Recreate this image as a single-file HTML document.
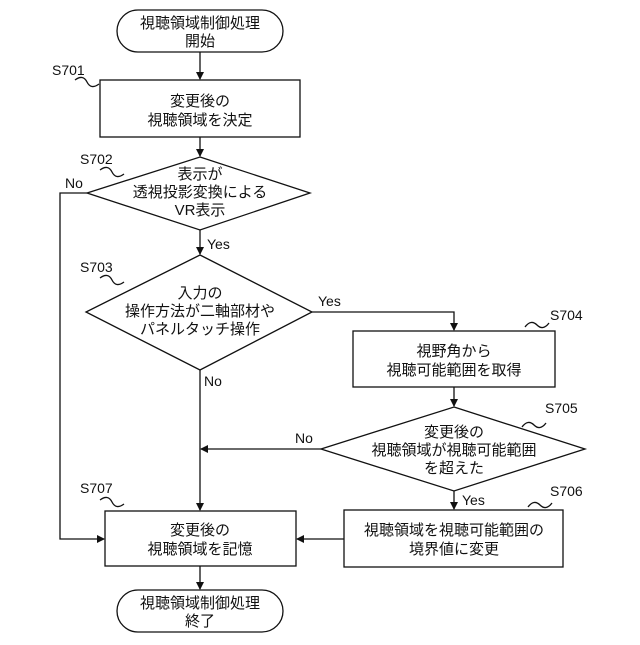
<!DOCTYPE html>
<html><head><meta charset="utf-8"><style>
body{margin:0;background:#fff}
svg text{font-family:"Liberation Sans","Noto Sans CJK JP",sans-serif;fill:#111}
.t{font-size:15px;text-anchor:middle}
.l{font-size:14px}
</style></head><body>
<svg width="640" height="640" viewBox="0 0 640 640" xmlns="http://www.w3.org/2000/svg">
<defs><marker id="a" markerWidth="8" markerHeight="8" refX="7" refY="4" orient="auto" markerUnits="userSpaceOnUse"><path d="M0,0 L8,4 L0,8 z" fill="#111"/></marker></defs>
<g fill="none" stroke="#111" stroke-width="1.3">
<rect x="117" y="10" width="166" height="42" rx="21"/>
<rect x="100" y="80" width="200" height="57"/>
<polygon points="200,157 310,193 200,230 87,193"/>
<polygon points="200,255 312,312 200,370 86,312"/>
<rect x="353" y="331" width="202" height="56"/>
<polygon points="454,407 585,449 454,491 321,449"/>
<rect x="344" y="510" width="219" height="57"/>
<rect x="105" y="511" width="191" height="55"/>
<rect x="117" y="590" width="166" height="42" rx="21"/>
<path d="M200,52 V79" marker-end="url(#a)"/>
<path d="M200,137 V156" marker-end="url(#a)"/>
<path d="M200,230 V254" marker-end="url(#a)"/>
<path d="M200,370 V510" marker-end="url(#a)"/>
<path d="M87,193 H60 V539 H104" marker-end="url(#a)"/>
<path d="M312,312 H454 V330" marker-end="url(#a)"/>
<path d="M454,387 V406" marker-end="url(#a)"/>
<path d="M321,449 H201" marker-end="url(#a)"/>
<path d="M454,491 V509" marker-end="url(#a)"/>
<path d="M344,539 H297" marker-end="url(#a)"/>
<path d="M200,566 V589" marker-end="url(#a)"/>
<path d="M75,80 q8,-6 12,2 t12,2"/>
<path d="M100,170 q8,-6 12,2 t12,2"/>
<path d="M100,278 q8,-6 12,2 t12,2"/>
<path d="M525,327 q6,-8 12,-2 t12,-2"/>
<path d="M522,427 q6,-8 12,-2 t12,-2"/>
<path d="M528,507 q6,-8 12,-2 t12,-2"/>
<path d="M100,500 q8,-6 12,2 t12,2"/>
</g>
<text class="t" x="200" y="28">視聴領域制御処理</text>
<text class="t" x="200" y="46">開始</text>
<text class="t" x="200" y="106">変更後の</text>
<text class="t" x="200" y="125">視聴領域を決定</text>
<text class="t" x="200" y="179">表示が</text>
<text class="t" x="200" y="197">透視投影変換による</text>
<text class="t" x="200" y="215">VR表示</text>
<text class="t" x="200" y="298">入力の</text>
<text class="t" x="200" y="316">操作方法が二軸部材や</text>
<text class="t" x="200" y="334">パネルタッチ操作</text>
<text class="t" x="454" y="356">視野角から</text>
<text class="t" x="454" y="375">視聴可能範囲を取得</text>
<text class="t" x="454" y="437">変更後の</text>
<text class="t" x="454" y="455">視聴領域が視聴可能範囲</text>
<text class="t" x="454" y="473">を超えた</text>
<text class="t" x="454" y="535">視聴領域を視聴可能範囲の</text>
<text class="t" x="454" y="554">境界値に変更</text>
<text class="t" x="200" y="535">変更後の</text>
<text class="t" x="200" y="554">視聴領域を記憶</text>
<text class="t" x="200" y="608">視聴領域制御処理</text>
<text class="t" x="200" y="626">終了</text>
<text class="l" x="52" y="75">S701</text>
<text class="l" x="80" y="164">S702</text>
<text class="l" x="80" y="272">S703</text>
<text class="l" x="550" y="320">S704</text>
<text class="l" x="545" y="413">S705</text>
<text class="l" x="550" y="496">S706</text>
<text class="l" x="80" y="493">S707</text>
<text class="l" x="65" y="188">No</text>
<text class="l" x="207" y="249">Yes</text>
<text class="l" x="318" y="306">Yes</text>
<text class="l" x="204" y="386">No</text>
<text class="l" x="295" y="443">No</text>
<text class="l" x="462" y="505">Yes</text>
</svg>
</body></html>
